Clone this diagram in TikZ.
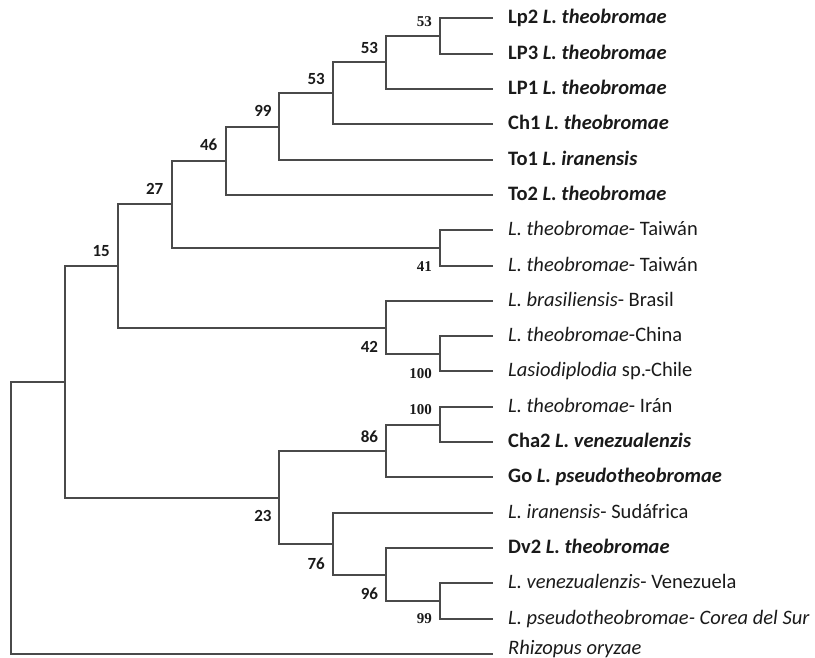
\documentclass[tikz,border=0pt]{standalone}
\usepackage{fontspec}
\setmainfont{Carlito}
\newfontfamily\serifbs{Liberation Serif}
\definecolor{branch}{HTML}{4A4A4A}
\definecolor{ink}{HTML}{1A1A1A}
\begin{document}
\begin{tikzpicture}[x=1pt,y=-1pt,
  br/.style={draw=branch,line width=2pt,line join=miter},
  leaf/.style={anchor=base west,inner sep=0pt,text=ink,font=\fontsize{20.5}{24}\selectfont},
  bs/.style={anchor=east,inner sep=0pt,text=ink,font=\fontsize{17}{20}\selectfont\bfseries},
  bss/.style={anchor=east,inner sep=0pt,text=ink,font=\fontsize{15}{18}\selectfont\serifbs\bfseries}]
\useasboundingbox (0,0) rectangle (815,658);
% leaf tips
\foreach \i/\y in {0/18,1/54,2/89,3/124,4/160,5/195,6/230,7/266,8/301,9/336,10/371,11/407,12/442,13/477,14/513,15/548,16/583,17/619,18/654}
  \coordinate (t\i) at (493,\y);
% internal nodes
\coordinate (n8a) at (440,36);
\coordinate (n7a) at (386,62);
\coordinate (n6a) at (333,93);
\coordinate (n5a) at (279,127);
\coordinate (n4) at (226,161);
\coordinate (ntw) at (440,248);
\coordinate (n3) at (172,204);
\coordinate (ncc) at (440,354);
\coordinate (nbr) at (386,328);
\coordinate (n2) at (118,266);
\coordinate (nic) at (440,425);
\coordinate (n86) at (386,451);
\coordinate (nvc) at (440,601);
\coordinate (n96) at (386,575);
\coordinate (n76) at (333,544);
\coordinate (n23) at (279,498);
\coordinate (n1) at (65,382);
\coordinate (root) at (11,518);
% branches
\draw[br] (n8a) |- (t0); \draw[br] (n8a) |- (t1);
\draw[br] (n7a) |- (n8a); \draw[br] (n7a) |- (t2);
\draw[br] (n6a) |- (n7a); \draw[br] (n6a) |- (t3);
\draw[br] (n5a) |- (n6a); \draw[br] (n5a) |- (t4);
\draw[br] (n4) |- (n5a); \draw[br] (n4) |- (t5);
\draw[br] (ntw) |- (t6); \draw[br] (ntw) |- (t7);
\draw[br] (n3) |- (n4); \draw[br] (n3) |- (ntw);
\draw[br] (ncc) |- (t9); \draw[br] (ncc) |- (t10);
\draw[br] (nbr) |- (t8); \draw[br] (nbr) |- (ncc);
\draw[br] (n2) |- (n3); \draw[br] (n2) |- (nbr);
\draw[br] (nic) |- (t11); \draw[br] (nic) |- (t12);
\draw[br] (n86) |- (nic); \draw[br] (n86) |- (t13);
\draw[br] (nvc) |- (t16); \draw[br] (nvc) |- (t17);
\draw[br] (n96) |- (t15); \draw[br] (n96) |- (nvc);
\draw[br] (n76) |- (t14); \draw[br] (n76) |- (n96);
\draw[br] (n23) |- (n86); \draw[br] (n23) |- (n76);
\draw[br] (n1) |- (n2); \draw[br] (n1) |- (n23);
\draw[br] (root) |- (n1); \draw[br] (root) |- (t18);
% leaf labels
\node[leaf] (l0) at ([xshift=15pt,yshift=-5.5pt]t0) {\bfseries Lp2 \textit{L. theobromae}};
\node[leaf] (l1) at ([xshift=15pt,yshift=-5.5pt]t1) {\bfseries LP3 \textit{L. theobromae}};
\node[leaf] (l2) at ([xshift=15pt,yshift=-5.5pt]t2) {\bfseries LP1 \textit{L. theobromae}};
\node[leaf] (l3) at ([xshift=15pt,yshift=-5.5pt]t3) {\bfseries Ch1 \textit{L. theobromae}};
\node[leaf] (l4) at ([xshift=15pt,yshift=-5.5pt]t4) {\bfseries To1 \textit{L. iranensis}};
\node[leaf] (l5) at ([xshift=15pt,yshift=-5.5pt]t5) {\bfseries To2 \textit{L. theobromae}};
\node[leaf] (l6) at ([xshift=15pt,yshift=-5.5pt]t6) {\textit{L. theobromae}- Taiwán};
\node[leaf] (l7) at ([xshift=15pt,yshift=-5.5pt]t7) {\textit{L. theobromae}- Taiwán};
\node[leaf] (l8) at ([xshift=15pt,yshift=-5.5pt]t8) {\textit{L. brasiliensis}- Brasil};
\node[leaf] (l9) at ([xshift=15pt,yshift=-5.5pt]t9) {\textit{L. theobromae}-China};
\node[leaf] (l10) at ([xshift=15pt,yshift=-5.5pt]t10) {\textit{Lasiodiplodia} sp.-Chile};
\node[leaf] (l11) at ([xshift=15pt,yshift=-5.5pt]t11) {\textit{L. theobromae}- Irán};
\node[leaf] (l12) at ([xshift=15pt,yshift=-5.5pt]t12) {\bfseries Cha2 \textit{L. venezualenzis}};
\node[leaf] (l13) at ([xshift=15pt,yshift=-5.5pt]t13) {\bfseries Go \textit{L. pseudotheobromae}};
\node[leaf] (l14) at ([xshift=15pt,yshift=-5.5pt]t14) {\textit{L. iranensis}- Sudáfrica};
\node[leaf] (l15) at ([xshift=15pt,yshift=-5.5pt]t15) {\bfseries Dv2 \textit{L. theobromae}};
\node[leaf] (l16) at ([xshift=15pt,yshift=-5.5pt]t16) {\textit{L. venezualenzis}- Venezuela};
\node[leaf] (l17) at ([xshift=15pt,yshift=-5.5pt]t17) {\textit{L. pseudotheobromae- Corea del Sur}};
\node[leaf] (l18) at ([xshift=15pt,yshift=0pt]t18) {\textit{Rhizopus oryzae}};
% bootstrap values
\node[bss] (b1) at (432,21.7) {53};
\node[bs] (b2) at (378.3,48.3) {53};
\node[bs] (b3) at (325,79) {53};
\node[bs] (b4) at (271.7,111) {99};
\node[bs] (b5) at (217.5,145) {46};
\node[bs] (b6) at (163.5,189.3) {27};
\node[bs] (b7) at (110,250.7) {15};
\node[bss] (b8) at (432,266.7) {41};
\node[bs] (b9) at (378.3,346.7) {42};
\node[bss] (b10) at (432,373.3) {100};
\node[bss] (b11) at (432,410) {100};
\node[bs] (b12) at (378.3,436.7) {86};
\node[bs] (b13) at (271.7,516) {23};
\node[bs] (b14) at (325,563.3) {76};
\node[bs] (b15) at (378.3,594) {96};
\node[bss] (b16) at (432,619) {99};
\end{tikzpicture}
\end{document}
